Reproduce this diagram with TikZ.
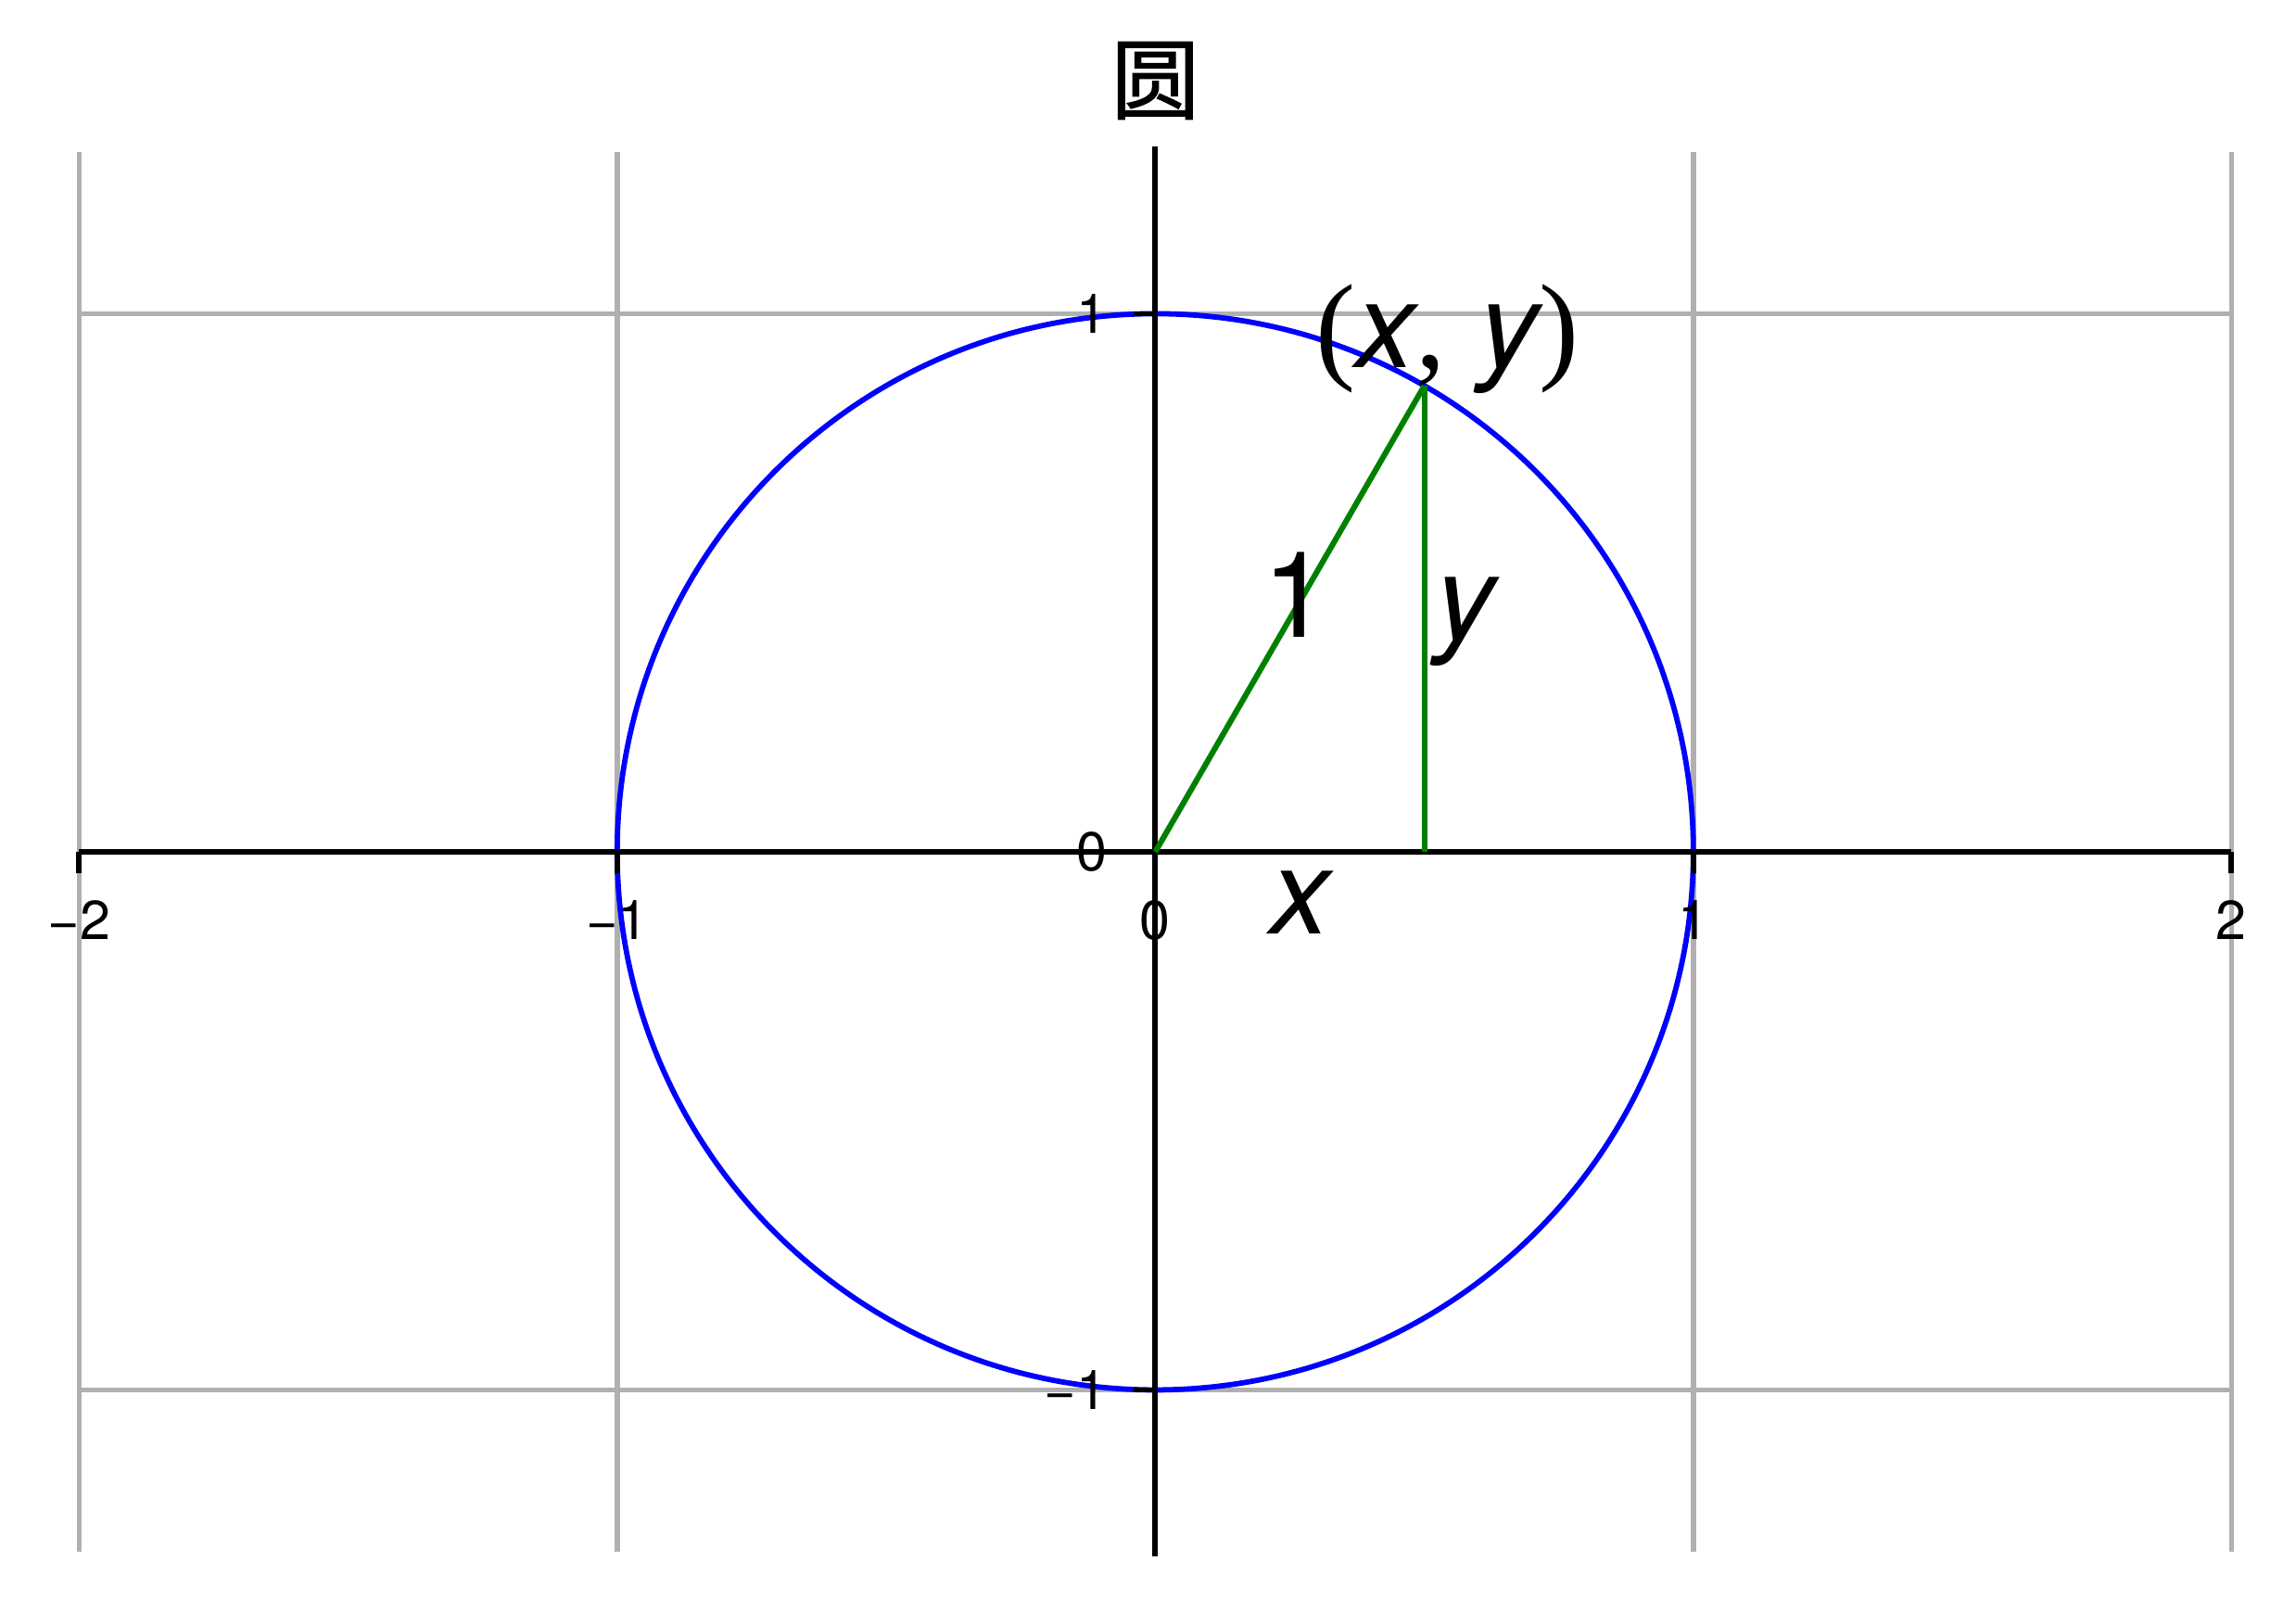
\documentclass[tikz,border=0pt]{standalone}
\usepackage{fontspec}
\setmainfont{TeX Gyre Heros}
\newfontfamily\cjkfont[FakeBold=1.2]{Noto Sans CJK SC}
\newfontfamily\parenfont{Liberation Serif}
\usepackage{tikz}
\usetikzlibrary{calc}
\definecolor{gridgray}{RGB}{176,176,176}
\definecolor{circblue}{RGB}{0,0,255}
\definecolor{radgreen}{RGB}{0,128,0}
\tikzset{
  gridline/.style={draw=gridgray, line width=0.8pt},
  axisline/.style={draw=black, line width=0.85pt},
  tickmark/.style={draw=black, line width=0.85pt},
  ticklabel/.style={inner sep=0pt, font=\fontsize{8.7}{10}\selectfont},
  varlabel/.style={inner sep=0pt, font=\fontsize{19}{22}\selectfont\itshape},
  unitcircle/.style={draw=circblue, line width=0.85pt},
  legline/.style={draw=radgreen, line width=0.9pt}
}

\begin{document}
\begin{tikzpicture}[x=3cm, y=3cm]
\useasboundingbox (-2.147,-1.388) rectangle (2.120,1.583);

% grid
\foreach \gx in {-2,-1,1,2}
  \draw[gridline] (\gx,-1.3) -- (\gx,1.3);
\foreach \gy in {-1,1}
  \draw[gridline] (-2,\gy) -- (2,\gy);

% circle
\coordinate (O) at (0,0);
\draw[unitcircle] (O) circle (1);

% axes
\draw[axisline] (-2,0) -- (2,0);
\draw[axisline] (0,-1.31) -- (0,1.31);
\foreach \tx/\tl in {-2/−2,-1/−1,0/0,1/1,2/2} {
  \draw[tickmark] (\tx,0) -- (\tx,-0.04);
  \node[ticklabel] (xt\tx) at (\tx,-0.127) {\tl};
}
\foreach \ty/\tl in {-1/−1,0/0,1/1} {
  \draw[tickmark] (0,\ty) -- (-0.041,\ty);
  \node[ticklabel, anchor=east] (yt\ty) at (-0.088,\ty) {\tl};
}

% title
\node[inner sep=0pt, font=\cjkfont\fontsize{14}{16}\selectfont] (title) at (0,1.433) {圆};

% radius and legs
\coordinate (P) at (60:1);
\coordinate (Q) at (P |- O);
\draw[legline] (O) -- (P);
\draw[legline] (P) -- (Q);

\node[varlabel, anchor=base, font=\fontsize{19}{22}\selectfont] (rad) at (0.262,0.398) {1};
\node[varlabel, anchor=base] (ylab) at (0.576,0.393) {y};
\node[varlabel, anchor=base] (xlab) at (0.27,-0.152) {x};
\node[varlabel, anchor=base] (ptlabel) at ($(P)+(0.043,0.034)$)
  {{\parenfont\upshape(}x{\parenfont\upshape,} y{\parenfont\upshape)}};
\end{tikzpicture}
\end{document}
